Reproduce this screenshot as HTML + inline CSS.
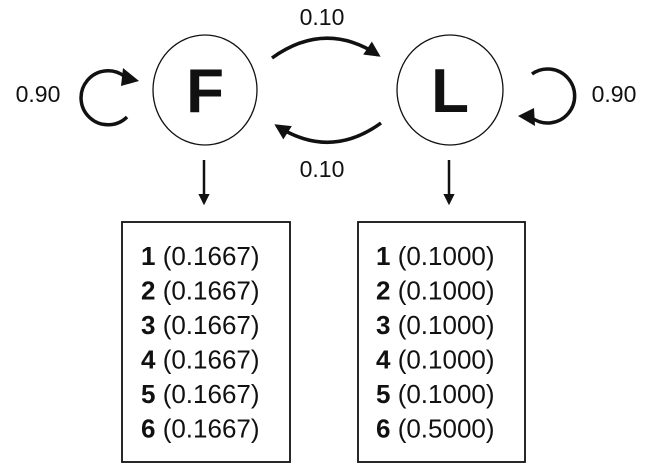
<!DOCTYPE html>
<html><head><meta charset="utf-8"><style>
html,body{margin:0;padding:0;background:#fff;}
svg{display:block;font-family:"Liberation Sans",Arial,sans-serif;}
</style></head><body>
<svg width="650" height="472" viewBox="0 0 650 472">
<defs>
<marker id="ah" viewBox="0 0 10 10" refX="8" refY="5" markerWidth="4.5" markerHeight="4.5" orient="auto"><path d="M0,0 L10,5 L0,10 z" fill="#111"/></marker>
</defs>
<g fill="none" stroke="#111">
<ellipse cx="205" cy="90" rx="52" ry="55" stroke-width="1.3"/>
<ellipse cx="450" cy="90" rx="53" ry="55" stroke-width="1.3"/>
<path d="M272,58 Q325,20 378,55" stroke-width="3.5" marker-end="url(#ah)"/>
<path d="M381,123 Q330,160 277,126" stroke-width="3.5" marker-end="url(#ah)"/>
<path d="M127,117 A27,27 0 1 1 124,76" stroke-width="3.5"/>
<path d="M532,74 A27,27 0 1 1 532,118" stroke-width="3.5"/>
<line x1="204" y1="160" x2="204" y2="203" stroke-width="2.5" marker-end="url(#ah)"/>
<line x1="449" y1="160" x2="449" y2="203" stroke-width="2.5" marker-end="url(#ah)"/>
<rect x="122" y="222" width="168" height="240" stroke-width="1.8"/>
<rect x="358" y="222" width="167" height="240" stroke-width="1.8"/>
</g>
<polygon points="139,81 123,68 121,86" fill="#111"/>
<polygon points="518,116 534,108 535,126" fill="#111"/>
<g fill="#111" font-size="23">
<text x="322" y="25" text-anchor="middle">0.10</text>
<text x="322" y="177" text-anchor="middle">0.10</text>
<text x="38" y="102" text-anchor="middle">0.90</text>
<text x="614" y="102" text-anchor="middle">0.90</text>
<text x="205" y="112" text-anchor="middle" font-size="62" font-weight="bold">F</text>
<text x="450" y="112" text-anchor="middle" font-size="62" font-weight="bold">L</text>
</g>
<g fill="#111" font-size="26" id="em"></g>
<script>
const faces = ["1","2","3","4","5","6"];
const probsF = ["0.1667","0.1667","0.1667","0.1667","0.1667","0.1667"];
const probsL = ["0.1000","0.1000","0.1000","0.1000","0.1000","0.5000"];
const g = document.getElementById('em');
function addCol(x, probs, tag){
  faces.forEach((f,i)=>{
    const t = document.createElementNS('http://www.w3.org/2000/svg','text');
    t.setAttribute('x', x);
    t.setAttribute('y', 265 + i*34.5);
    
    
    const b = document.createElementNS('http://www.w3.org/2000/svg','tspan');
    b.setAttribute('font-weight','bold');
    b.textContent = f;
    t.appendChild(b);
    t.appendChild(document.createTextNode(' (' + probs[i] + ')'));
    g.appendChild(t);
  });
}
addCol(141, probsF, 'f');
addCol(376, probsL, 'l');
</script>
</svg>
</body></html>
